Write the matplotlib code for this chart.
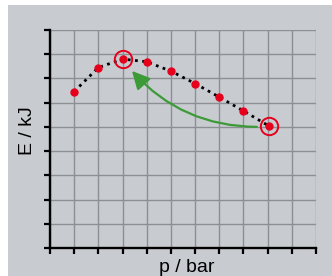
import matplotlib.pyplot as plt
from matplotlib.patches import Rectangle

# values (grid units)
p_vals = [1, 2, 3, 4, 5, 6, 7, 8, 9.05]
e_vals = [6.46, 7.45, 7.8, 7.69, 7.3, 6.79, 6.23, 5.66, 5.04]
ring_idx = [2, 8]
arrow_start = (8.55, 5.0)
arrow_end = (3.39, 7.31)

W, H = 332, 276
fig = plt.figure(figsize=(W / 100, H / 100), dpi=100)
fig.patch.set_facecolor('white')
bg = '#c8cbd0'
fig.patches.append(Rectangle((8 / W, 0), 1, (H - 5) / H, transform=fig.transFigure,
                             facecolor=bg, edgecolor='none', zorder=-10))

ax = fig.add_axes([50 / W, (H - 248) / H, (316 - 50) / W, (248 - 30) / H])
ax.set_facecolor(bg)
ax.set_xlim(0, 11)
ax.set_ylim(0, 9)
ax.set_xticks(range(12))
ax.set_yticks(range(10))
ax.set_xticklabels([])
ax.set_yticklabels([])
ax.grid(True, color='#8c8f94', lw=1.0)
ax.set_axisbelow(True)
for s in ['top', 'right']:
    ax.spines[s].set_visible(False)
for s in ['left', 'bottom']:
    ax.spines[s].set_linewidth(1.7)
    ax.spines[s].set_color('black')
ax.tick_params(direction='out', length=4, width=1.6, color='black')

red = '#e6001c'
ax.plot(p_vals, e_vals, color='black', lw=2, linestyle=(0, (1, 1.6)), zorder=3)
ax.plot(p_vals, e_vals, 'o', color=red, markersize=5, zorder=4)
ax.plot([p_vals[i] for i in ring_idx], [e_vals[i] for i in ring_idx], 'o',
        markersize=12.5, markerfacecolor='none', markeredgecolor=red, mew=1.4, zorder=5)

ax.annotate('', xy=arrow_end, xytext=arrow_start,
            arrowprops=dict(arrowstyle='-|>,head_length=0.6,head_width=0.3',
                            color='#3c9a37', lw=1.6,
                            mutation_scale=18, shrinkA=0, shrinkB=0,
                            connectionstyle='arc3,rad=-0.22'), zorder=6)

fig.text(187 / W, 1 - 267 / H, 'p / bar', ha='center', va='center',
         fontsize=14, family='Liberation Sans')
fig.text(28 / W, 1 - 131 / H, 'E / kJ', ha='center', va='center', rotation=90,
         fontsize=14, family='Liberation Sans')

fig.savefig('out.png', dpi=100, facecolor=fig.get_facecolor())
